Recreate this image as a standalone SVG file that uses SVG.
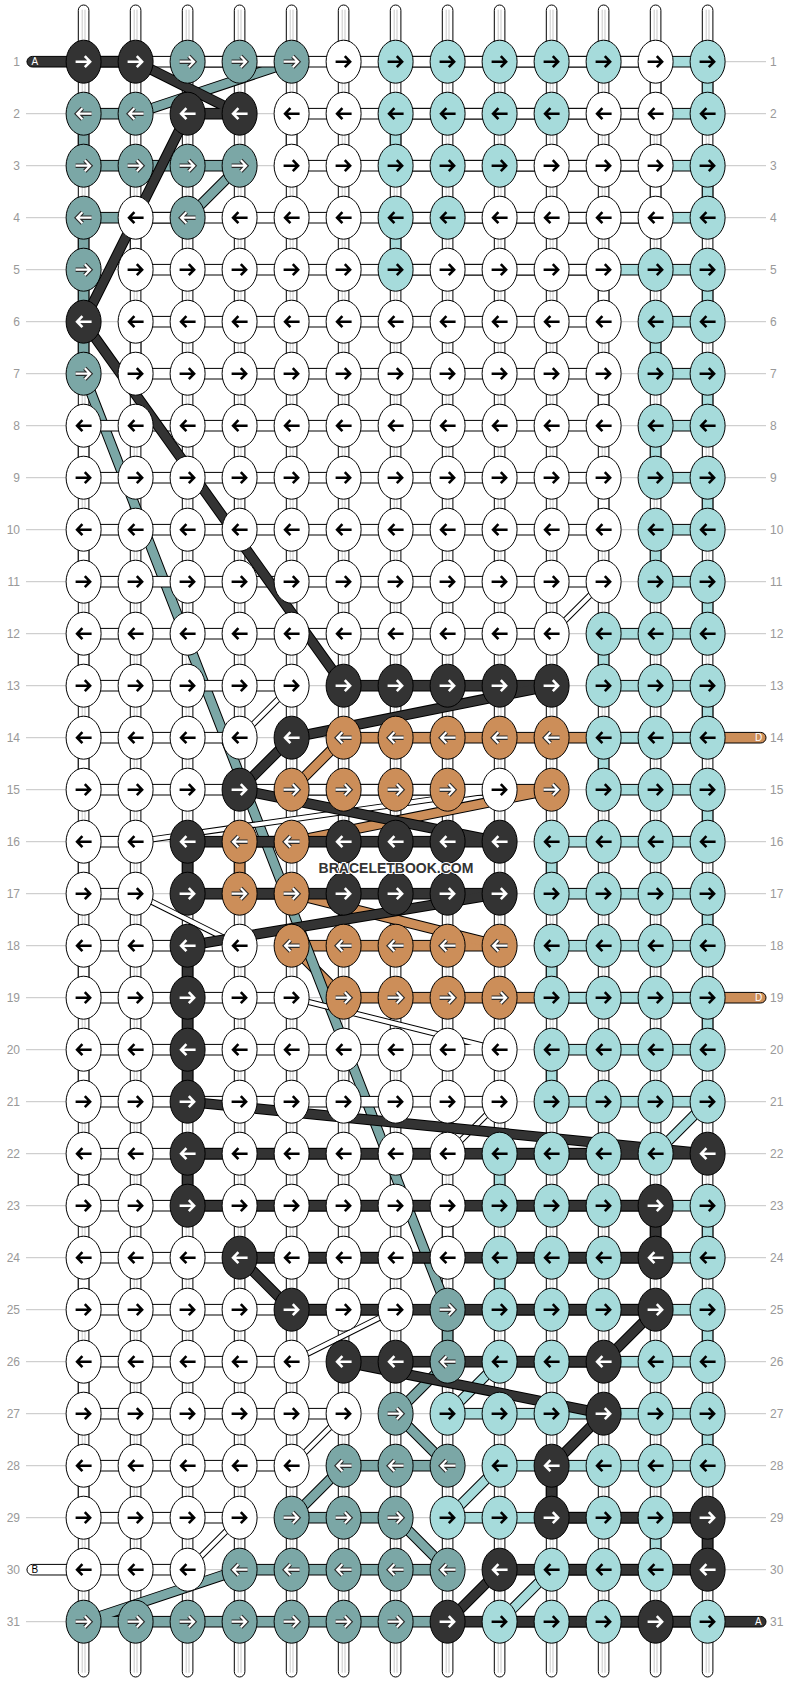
<svg xmlns="http://www.w3.org/2000/svg" xmlns:xlink="http://www.w3.org/1999/xlink" width="792" height="1684" viewBox="0 0 792 1684">
<defs>
<style>
.g{stroke:#c4c4c4;stroke-width:1}
.lb{font-family:"Liberation Sans",Arial,sans-serif;font-size:12px;fill:#999}
.pt{font-family:"Liberation Sans",Arial,sans-serif;font-size:10px}
.b{stroke:#000;stroke-width:1}
.k{stroke:#000;stroke-width:1}
.D{fill:#333}.T{fill:#7ba7a6}.L{fill:#a6dbdb}.O{fill:#cc8e59}.W{fill:#fff}
.dk{fill:none;stroke:#000;stroke-width:10.6}
.dkw{fill:none;stroke:#000;stroke-width:6.2}
.fD{fill:none;stroke:#333;stroke-width:8.6}
.fT{fill:none;stroke:#7ba7a6;stroke-width:8.6}
.fL{fill:none;stroke:#a6dbdb;stroke-width:8.6}
.fO{fill:none;stroke:#cc8e59;stroke-width:8.6}
.fW{fill:none;stroke:#fff;stroke-width:4.2}
.ab{stroke:#000;stroke-width:2.6}
.aw{stroke:#fff;stroke-width:2.6}
.ao{stroke:#2a2a2a;stroke-width:4.4}
.ai{stroke:#fff;stroke-width:2.2}
.wm{font-family:"Liberation Sans",Arial,sans-serif;font-weight:bold;font-size:14px;fill:#333;stroke:#fff;stroke-width:2;paint-order:stroke}
</style>
<path id="ar" d="M-8,0H5.5M1.2,-5.5L6.5,0L1.2,5.5" fill="none"/>
<path id="al" d="M8,0H-5.5M-1.2,-5.5L-6.5,0L-1.2,5.5" fill="none"/>
<g id="tube"><rect x="-5.3" y="-56.7" width="10.6" height="1672" rx="5.3" fill="#fff" stroke="#000"/><path d="M-1.4,-52V1611M1.4,-52V1611" stroke="#bbb" stroke-width="0.8"/></g>
<g id="WR"><ellipse class="k W" rx="17.5" ry="21.5"/><use href="#ar" class="ab"/></g>
<g id="WL"><ellipse class="k W" rx="17.5" ry="21.5"/><use href="#al" class="ab"/></g>
<g id="LR"><ellipse class="k L" rx="17.5" ry="21.5"/><use href="#ar" class="ab"/></g>
<g id="LL"><ellipse class="k L" rx="17.5" ry="21.5"/><use href="#al" class="ab"/></g>
<g id="DR"><ellipse class="k D" rx="17.5" ry="21.5"/><use href="#ar" class="aw"/></g>
<g id="DL"><ellipse class="k D" rx="17.5" ry="21.5"/><use href="#al" class="aw"/></g>
<g id="TR"><ellipse class="k T" rx="17.5" ry="21.5"/><use href="#ar" class="ao"/><use href="#ar" class="ai"/></g>
<g id="TL"><ellipse class="k T" rx="17.5" ry="21.5"/><use href="#al" class="ao"/><use href="#al" class="ai"/></g>
<g id="OR"><ellipse class="k O" rx="17.5" ry="21.5"/><use href="#ar" class="ao"/><use href="#ar" class="ai"/></g>
<g id="OL"><ellipse class="k O" rx="17.5" ry="21.5"/><use href="#al" class="ao"/><use href="#al" class="ai"/></g>
</defs>
<rect width="792" height="1684" fill="#fff"/>
<g transform="translate(83.6,61.7)">
<g id="guides" class="g">
<path d="M-57.6,0H682.4M-57.6,52H682.4M-57.6,104H682.4M-57.6,156H682.4M-57.6,208H682.4M-57.6,260H682.4M-57.6,312H682.4M-57.6,364H682.4M-57.6,416H682.4M-57.6,468H682.4M-57.6,520H682.4M-57.6,572H682.4M-57.6,624H682.4M-57.6,676H682.4M-57.6,728H682.4M-57.6,780H682.4M-57.6,832H682.4M-57.6,884H682.4M-57.6,936H682.4M-57.6,988H682.4M-57.6,1040H682.4M-57.6,1092H682.4M-57.6,1144H682.4M-57.6,1196H682.4M-57.6,1248H682.4M-57.6,1300H682.4M-57.6,1352H682.4M-57.6,1404H682.4M-57.6,1456H682.4M-57.6,1508H682.4M-57.6,1560H682.4"/>
</g>
<g id="warps">
<use href="#tube" x="0"/><use href="#tube" x="52"/><use href="#tube" x="104"/><use href="#tube" x="156"/><use href="#tube" x="208"/><use href="#tube" x="260"/><use href="#tube" x="312"/><use href="#tube" x="364"/><use href="#tube" x="416"/><use href="#tube" x="468"/><use href="#tube" x="520"/><use href="#tube" x="572"/><use href="#tube" x="624"/>
</g>
<g id="connectors">
<g id="thread-orange">
<path class="dk" d="M260,676L208,728M468,728L208,780M208,832L416,884M208,884L260,936"/>
<rect class="b O" x="260" y="670.7" width="422.4" height="10.6" rx="5.3"/>
<rect class="b O" x="208" y="722.7" width="260" height="10.6"/>
<rect class="b O" x="156" y="774.7" width="52" height="10.6"/>
<rect class="b O" x="150.7" y="780" width="10.6" height="52"/>
<rect class="b O" x="156" y="826.7" width="52" height="10.6"/>
<rect class="b O" x="208" y="878.7" width="208" height="10.6"/>
<rect class="b O" x="260" y="930.7" width="422.4" height="10.6" rx="5.3"/>
<path class="fO" d="M260,676L208,728M468,728L208,780M208,832L416,884M208,884L260,936"/>
</g>
<g id="thread-teal">
<path class="dk" d="M208,0L52,52M156,104L104,156M0,312L364,1248M364,1300L312,1352M312,1352L364,1404M260,1404L208,1456M312,1456L364,1508M156,1508L0,1560"/>
<rect class="b T" x="104" y="-5.3" width="104" height="10.6"/>
<rect class="b T" x="0" y="46.7" width="52" height="10.6"/>
<rect class="b T" x="-5.3" y="52" width="10.6" height="52"/>
<rect class="b T" x="0" y="98.7" width="156" height="10.6"/>
<rect class="b T" x="0" y="150.7" width="104" height="10.6"/>
<rect class="b T" x="-5.3" y="156" width="10.6" height="156"/>
<rect class="b T" x="358.7" y="1248" width="10.6" height="52"/>
<rect class="b T" x="260" y="1398.7" width="104" height="10.6"/>
<rect class="b T" x="208" y="1450.7" width="104" height="10.6"/>
<rect class="b T" x="156" y="1502.7" width="208" height="10.6"/>
<rect class="b T" x="0" y="1554.7" width="364" height="10.6"/>
<path class="fT" d="M208,0L52,52M156,104L104,156M0,312L364,1248M364,1300L312,1352M312,1352L364,1404M260,1404L208,1456M312,1456L364,1508M156,1508L0,1560"/>
</g>
<g id="thread-light">
<path class="dk" d="M624,1040L572,1092M416,1300L364,1352M416,1404L364,1456M468,1508L416,1560"/>
<rect class="b L" x="312" y="-5.3" width="312" height="10.6"/>
<rect class="b L" x="618.7" y="0" width="10.6" height="52"/>
<rect class="b L" x="312" y="46.7" width="312" height="10.6"/>
<rect class="b L" x="306.7" y="52" width="10.6" height="52"/>
<rect class="b L" x="312" y="98.7" width="312" height="10.6"/>
<rect class="b L" x="618.7" y="104" width="10.6" height="52"/>
<rect class="b L" x="312" y="150.7" width="312" height="10.6"/>
<rect class="b L" x="306.7" y="156" width="10.6" height="52"/>
<rect class="b L" x="312" y="202.7" width="312" height="10.6"/>
<rect class="b L" x="618.7" y="208" width="10.6" height="52"/>
<rect class="b L" x="572" y="254.7" width="52" height="10.6"/>
<rect class="b L" x="566.7" y="260" width="10.6" height="52"/>
<rect class="b L" x="572" y="306.7" width="52" height="10.6"/>
<rect class="b L" x="618.7" y="312" width="10.6" height="52"/>
<rect class="b L" x="572" y="358.7" width="52" height="10.6"/>
<rect class="b L" x="566.7" y="364" width="10.6" height="52"/>
<rect class="b L" x="572" y="410.7" width="52" height="10.6"/>
<rect class="b L" x="618.7" y="416" width="10.6" height="52"/>
<rect class="b L" x="572" y="462.7" width="52" height="10.6"/>
<rect class="b L" x="566.7" y="468" width="10.6" height="52"/>
<rect class="b L" x="572" y="514.7" width="52" height="10.6"/>
<rect class="b L" x="618.7" y="520" width="10.6" height="52"/>
<rect class="b L" x="520" y="566.7" width="104" height="10.6"/>
<rect class="b L" x="514.7" y="572" width="10.6" height="52"/>
<rect class="b L" x="520" y="618.7" width="104" height="10.6"/>
<rect class="b L" x="618.7" y="624" width="10.6" height="52"/>
<rect class="b L" x="520" y="670.7" width="104" height="10.6"/>
<rect class="b L" x="514.7" y="676" width="10.6" height="52"/>
<rect class="b L" x="520" y="722.7" width="104" height="10.6"/>
<rect class="b L" x="618.7" y="728" width="10.6" height="52"/>
<rect class="b L" x="468" y="774.7" width="156" height="10.6"/>
<rect class="b L" x="462.7" y="780" width="10.6" height="52"/>
<rect class="b L" x="468" y="826.7" width="156" height="10.6"/>
<rect class="b L" x="618.7" y="832" width="10.6" height="52"/>
<rect class="b L" x="468" y="878.7" width="156" height="10.6"/>
<rect class="b L" x="462.7" y="884" width="10.6" height="52"/>
<rect class="b L" x="468" y="930.7" width="156" height="10.6"/>
<rect class="b L" x="618.7" y="936" width="10.6" height="52"/>
<rect class="b L" x="468" y="982.7" width="156" height="10.6"/>
<rect class="b L" x="462.7" y="988" width="10.6" height="52"/>
<rect class="b L" x="468" y="1034.7" width="156" height="10.6"/>
<rect class="b L" x="416" y="1086.7" width="156" height="10.6"/>
<rect class="b L" x="410.7" y="1092" width="10.6" height="52"/>
<rect class="b L" x="416" y="1138.7" width="208" height="10.6"/>
<rect class="b L" x="618.7" y="1144" width="10.6" height="52"/>
<rect class="b L" x="416" y="1190.7" width="208" height="10.6"/>
<rect class="b L" x="410.7" y="1196" width="10.6" height="52"/>
<rect class="b L" x="416" y="1242.7" width="208" height="10.6"/>
<rect class="b L" x="618.7" y="1248" width="10.6" height="52"/>
<rect class="b L" x="416" y="1294.7" width="208" height="10.6"/>
<rect class="b L" x="364" y="1346.7" width="260" height="10.6"/>
<rect class="b L" x="618.7" y="1352" width="10.6" height="52"/>
<rect class="b L" x="416" y="1398.7" width="208" height="10.6"/>
<rect class="b L" x="364" y="1450.7" width="208" height="10.6"/>
<rect class="b L" x="566.7" y="1456" width="10.6" height="52"/>
<rect class="b L" x="468" y="1502.7" width="104" height="10.6"/>
<rect class="b L" x="416" y="1554.7" width="208" height="10.6"/>
<path class="fL" d="M624,1040L572,1092M416,1300L364,1352M416,1404L364,1456M468,1508L416,1560"/>
</g>
<g id="thread-white">
<path class="dkw" d="M520,520L468,572M208,624L156,676M416,728L52,780M52,832L156,884M208,936L416,988M416,1040L364,1092M312,1248L208,1300M260,1352L208,1404M156,1456L104,1508"/>
<rect class="b W" x="0" y="-5.3" width="572" height="10.6"/>
<rect class="b W" x="566.7" y="0" width="10.6" height="52"/>
<rect class="b W" x="208" y="46.7" width="364" height="10.6"/>
<rect class="b W" x="202.7" y="52" width="10.6" height="52"/>
<rect class="b W" x="208" y="98.7" width="364" height="10.6"/>
<rect class="b W" x="566.7" y="104" width="10.6" height="52"/>
<rect class="b W" x="52" y="150.7" width="520" height="10.6"/>
<rect class="b W" x="46.7" y="156" width="10.6" height="52"/>
<rect class="b W" x="52" y="202.7" width="468" height="10.6"/>
<rect class="b W" x="514.7" y="208" width="10.6" height="52"/>
<rect class="b W" x="52" y="254.7" width="468" height="10.6"/>
<rect class="b W" x="46.7" y="260" width="10.6" height="52"/>
<rect class="b W" x="52" y="306.7" width="468" height="10.6"/>
<rect class="b W" x="514.7" y="312" width="10.6" height="52"/>
<rect class="b W" x="0" y="358.7" width="520" height="10.6"/>
<rect class="b W" x="-5.3" y="364" width="10.6" height="52"/>
<rect class="b W" x="0" y="410.7" width="520" height="10.6"/>
<rect class="b W" x="514.7" y="416" width="10.6" height="52"/>
<rect class="b W" x="0" y="462.7" width="520" height="10.6"/>
<rect class="b W" x="-5.3" y="468" width="10.6" height="52"/>
<rect class="b W" x="0" y="514.7" width="520" height="10.6"/>
<rect class="b W" x="0" y="566.7" width="468" height="10.6"/>
<rect class="b W" x="-5.3" y="572" width="10.6" height="52"/>
<rect class="b W" x="0" y="618.7" width="208" height="10.6"/>
<rect class="b W" x="0" y="670.7" width="156" height="10.6"/>
<rect class="b W" x="-5.3" y="676" width="10.6" height="52"/>
<rect class="b W" x="0" y="722.7" width="416" height="10.6"/>
<rect class="b W" x="0" y="774.7" width="52" height="10.6"/>
<rect class="b W" x="-5.3" y="780" width="10.6" height="52"/>
<rect class="b W" x="0" y="826.7" width="52" height="10.6"/>
<rect class="b W" x="0" y="878.7" width="156" height="10.6"/>
<rect class="b W" x="-5.3" y="884" width="10.6" height="52"/>
<rect class="b W" x="0" y="930.7" width="208" height="10.6"/>
<rect class="b W" x="0" y="982.7" width="416" height="10.6"/>
<rect class="b W" x="-5.3" y="988" width="10.6" height="52"/>
<rect class="b W" x="0" y="1034.7" width="416" height="10.6"/>
<rect class="b W" x="0" y="1086.7" width="364" height="10.6"/>
<rect class="b W" x="-5.3" y="1092" width="10.6" height="52"/>
<rect class="b W" x="0" y="1138.7" width="364" height="10.6"/>
<rect class="b W" x="358.7" y="1144" width="10.6" height="52"/>
<rect class="b W" x="0" y="1190.7" width="364" height="10.6"/>
<rect class="b W" x="-5.3" y="1196" width="10.6" height="52"/>
<rect class="b W" x="0" y="1242.7" width="312" height="10.6"/>
<rect class="b W" x="0" y="1294.7" width="208" height="10.6"/>
<rect class="b W" x="-5.3" y="1300" width="10.6" height="52"/>
<rect class="b W" x="0" y="1346.7" width="260" height="10.6"/>
<rect class="b W" x="0" y="1398.7" width="208" height="10.6"/>
<rect class="b W" x="-5.3" y="1404" width="10.6" height="52"/>
<rect class="b W" x="0" y="1450.7" width="156" height="10.6"/>
<rect class="b W" x="-56.6" y="1502.7" width="160.6" height="10.6" rx="5.3"/>
<path class="fW" d="M520,520L468,572M208,624L156,676M416,728L52,780M52,832L156,884M208,936L416,988M416,1040L364,1092M312,1248L208,1300M260,1352L208,1404M156,1456L104,1508"/>
</g>
<g id="thread-dark">
<path class="dk" d="M52,0L156,52M104,52L0,260M0,260L260,624M468,624L208,676M208,676L156,728M156,728L416,780M416,832L104,884M104,1040L624,1092M156,1196L208,1248M572,1248L520,1300M260,1300L520,1352M520,1352L468,1404M416,1508L364,1560"/>
<rect class="b D" x="-56.6" y="-5.3" width="108.6" height="10.6" rx="5.3"/>
<rect class="b D" x="104" y="46.7" width="52" height="10.6"/>
<rect class="b D" x="260" y="618.7" width="208" height="10.6"/>
<rect class="b D" x="104" y="774.7" width="312" height="10.6"/>
<rect class="b D" x="98.7" y="780" width="10.6" height="52"/>
<rect class="b D" x="104" y="826.7" width="312" height="10.6"/>
<rect class="b D" x="98.7" y="884" width="10.6" height="156"/>
<rect class="b D" x="104" y="1086.7" width="520" height="10.6"/>
<rect class="b D" x="98.7" y="1092" width="10.6" height="52"/>
<rect class="b D" x="104" y="1138.7" width="468" height="10.6"/>
<rect class="b D" x="566.7" y="1144" width="10.6" height="52"/>
<rect class="b D" x="156" y="1190.7" width="416" height="10.6"/>
<rect class="b D" x="208" y="1242.7" width="364" height="10.6"/>
<rect class="b D" x="260" y="1294.7" width="260" height="10.6"/>
<rect class="b D" x="462.7" y="1404" width="10.6" height="52"/>
<rect class="b D" x="468" y="1450.7" width="156" height="10.6"/>
<rect class="b D" x="618.7" y="1456" width="10.6" height="52"/>
<rect class="b D" x="416" y="1502.7" width="208" height="10.6"/>
<rect class="b D" x="364" y="1554.7" width="318.4" height="10.6" rx="5.3"/>
<path class="fD" d="M52,0L156,52M104,52L0,260M0,260L260,624M468,624L208,676M208,676L156,728M156,728L416,780M416,832L104,884M104,1040L624,1092M156,1196L208,1248M572,1248L520,1300M260,1300L520,1352M520,1352L468,1404M416,1508L364,1560"/>
</g>
</g>
<g id="pill-labels" class="pt">
<text x="-52.1" y="3.5" fill="#fff">A</text>
<text x="-52.1" y="1511.5" fill="#000">B</text>
<text x="671.4" y="679.5" fill="#fff">D</text>
<text x="671.4" y="939.5" fill="#fff">D</text>
<text x="671.4" y="1563.5" fill="#fff">A</text>
</g>
<g id="knots">
<g id="row1"><use id="k1_1" href="#DR" x="0"/><use id="k1_2" href="#DR" x="52"/><use id="k1_3" href="#TR" x="104"/><use id="k1_4" href="#TR" x="156"/><use id="k1_5" href="#TR" x="208"/><use id="k1_6" href="#WR" x="260"/><use id="k1_7" href="#LR" x="312"/><use id="k1_8" href="#LR" x="364"/><use id="k1_9" href="#LR" x="416"/><use id="k1_10" href="#LR" x="468"/><use id="k1_11" href="#LR" x="520"/><use id="k1_12" href="#WR" x="572"/><use id="k1_13" href="#LR" x="624"/></g>
<g id="row2" transform="translate(0,52)"><use id="k2_1" href="#TL" x="0"/><use id="k2_2" href="#TL" x="52"/><use id="k2_3" href="#DL" x="104"/><use id="k2_4" href="#DL" x="156"/><use id="k2_5" href="#WL" x="208"/><use id="k2_6" href="#WL" x="260"/><use id="k2_7" href="#LL" x="312"/><use id="k2_8" href="#LL" x="364"/><use id="k2_9" href="#LL" x="416"/><use id="k2_10" href="#LL" x="468"/><use id="k2_11" href="#WL" x="520"/><use id="k2_12" href="#WL" x="572"/><use id="k2_13" href="#LL" x="624"/></g>
<g id="row3" transform="translate(0,104)"><use id="k3_1" href="#TR" x="0"/><use id="k3_2" href="#TR" x="52"/><use id="k3_3" href="#TR" x="104"/><use id="k3_4" href="#TR" x="156"/><use id="k3_5" href="#WR" x="208"/><use id="k3_6" href="#WR" x="260"/><use id="k3_7" href="#LR" x="312"/><use id="k3_8" href="#LR" x="364"/><use id="k3_9" href="#LR" x="416"/><use id="k3_10" href="#WR" x="468"/><use id="k3_11" href="#WR" x="520"/><use id="k3_12" href="#WR" x="572"/><use id="k3_13" href="#LR" x="624"/></g>
<g id="row4" transform="translate(0,156)"><use id="k4_1" href="#TL" x="0"/><use id="k4_2" href="#WL" x="52"/><use id="k4_3" href="#TL" x="104"/><use id="k4_4" href="#WL" x="156"/><use id="k4_5" href="#WL" x="208"/><use id="k4_6" href="#WL" x="260"/><use id="k4_7" href="#LL" x="312"/><use id="k4_8" href="#LL" x="364"/><use id="k4_9" href="#WL" x="416"/><use id="k4_10" href="#WL" x="468"/><use id="k4_11" href="#WL" x="520"/><use id="k4_12" href="#WL" x="572"/><use id="k4_13" href="#LL" x="624"/></g>
<g id="row5" transform="translate(0,208)"><use id="k5_1" href="#TR" x="0"/><use id="k5_2" href="#WR" x="52"/><use id="k5_3" href="#WR" x="104"/><use id="k5_4" href="#WR" x="156"/><use id="k5_5" href="#WR" x="208"/><use id="k5_6" href="#WR" x="260"/><use id="k5_7" href="#LR" x="312"/><use id="k5_8" href="#WR" x="364"/><use id="k5_9" href="#WR" x="416"/><use id="k5_10" href="#WR" x="468"/><use id="k5_11" href="#WR" x="520"/><use id="k5_12" href="#LR" x="572"/><use id="k5_13" href="#LR" x="624"/></g>
<g id="row6" transform="translate(0,260)"><use id="k6_1" href="#DL" x="0"/><use id="k6_2" href="#WL" x="52"/><use id="k6_3" href="#WL" x="104"/><use id="k6_4" href="#WL" x="156"/><use id="k6_5" href="#WL" x="208"/><use id="k6_6" href="#WL" x="260"/><use id="k6_7" href="#WL" x="312"/><use id="k6_8" href="#WL" x="364"/><use id="k6_9" href="#WL" x="416"/><use id="k6_10" href="#WL" x="468"/><use id="k6_11" href="#WL" x="520"/><use id="k6_12" href="#LL" x="572"/><use id="k6_13" href="#LL" x="624"/></g>
<g id="row7" transform="translate(0,312)"><use id="k7_1" href="#TR" x="0"/><use id="k7_2" href="#WR" x="52"/><use id="k7_3" href="#WR" x="104"/><use id="k7_4" href="#WR" x="156"/><use id="k7_5" href="#WR" x="208"/><use id="k7_6" href="#WR" x="260"/><use id="k7_7" href="#WR" x="312"/><use id="k7_8" href="#WR" x="364"/><use id="k7_9" href="#WR" x="416"/><use id="k7_10" href="#WR" x="468"/><use id="k7_11" href="#WR" x="520"/><use id="k7_12" href="#LR" x="572"/><use id="k7_13" href="#LR" x="624"/></g>
<g id="row8" transform="translate(0,364)"><use id="k8_1" href="#WL" x="0"/><use id="k8_2" href="#WL" x="52"/><use id="k8_3" href="#WL" x="104"/><use id="k8_4" href="#WL" x="156"/><use id="k8_5" href="#WL" x="208"/><use id="k8_6" href="#WL" x="260"/><use id="k8_7" href="#WL" x="312"/><use id="k8_8" href="#WL" x="364"/><use id="k8_9" href="#WL" x="416"/><use id="k8_10" href="#WL" x="468"/><use id="k8_11" href="#WL" x="520"/><use id="k8_12" href="#LL" x="572"/><use id="k8_13" href="#LL" x="624"/></g>
<g id="row9" transform="translate(0,416)"><use id="k9_1" href="#WR" x="0"/><use id="k9_2" href="#WR" x="52"/><use id="k9_3" href="#WR" x="104"/><use id="k9_4" href="#WR" x="156"/><use id="k9_5" href="#WR" x="208"/><use id="k9_6" href="#WR" x="260"/><use id="k9_7" href="#WR" x="312"/><use id="k9_8" href="#WR" x="364"/><use id="k9_9" href="#WR" x="416"/><use id="k9_10" href="#WR" x="468"/><use id="k9_11" href="#WR" x="520"/><use id="k9_12" href="#LR" x="572"/><use id="k9_13" href="#LR" x="624"/></g>
<g id="row10" transform="translate(0,468)"><use id="k10_1" href="#WL" x="0"/><use id="k10_2" href="#WL" x="52"/><use id="k10_3" href="#WL" x="104"/><use id="k10_4" href="#WL" x="156"/><use id="k10_5" href="#WL" x="208"/><use id="k10_6" href="#WL" x="260"/><use id="k10_7" href="#WL" x="312"/><use id="k10_8" href="#WL" x="364"/><use id="k10_9" href="#WL" x="416"/><use id="k10_10" href="#WL" x="468"/><use id="k10_11" href="#WL" x="520"/><use id="k10_12" href="#LL" x="572"/><use id="k10_13" href="#LL" x="624"/></g>
<g id="row11" transform="translate(0,520)"><use id="k11_1" href="#WR" x="0"/><use id="k11_2" href="#WR" x="52"/><use id="k11_3" href="#WR" x="104"/><use id="k11_4" href="#WR" x="156"/><use id="k11_5" href="#WR" x="208"/><use id="k11_6" href="#WR" x="260"/><use id="k11_7" href="#WR" x="312"/><use id="k11_8" href="#WR" x="364"/><use id="k11_9" href="#WR" x="416"/><use id="k11_10" href="#WR" x="468"/><use id="k11_11" href="#WR" x="520"/><use id="k11_12" href="#LR" x="572"/><use id="k11_13" href="#LR" x="624"/></g>
<g id="row12" transform="translate(0,572)"><use id="k12_1" href="#WL" x="0"/><use id="k12_2" href="#WL" x="52"/><use id="k12_3" href="#WL" x="104"/><use id="k12_4" href="#WL" x="156"/><use id="k12_5" href="#WL" x="208"/><use id="k12_6" href="#WL" x="260"/><use id="k12_7" href="#WL" x="312"/><use id="k12_8" href="#WL" x="364"/><use id="k12_9" href="#WL" x="416"/><use id="k12_10" href="#WL" x="468"/><use id="k12_11" href="#LL" x="520"/><use id="k12_12" href="#LL" x="572"/><use id="k12_13" href="#LL" x="624"/></g>
<g id="row13" transform="translate(0,624)"><use id="k13_1" href="#WR" x="0"/><use id="k13_2" href="#WR" x="52"/><use id="k13_3" href="#WR" x="104"/><use id="k13_4" href="#WR" x="156"/><use id="k13_5" href="#WR" x="208"/><use id="k13_6" href="#DR" x="260"/><use id="k13_7" href="#DR" x="312"/><use id="k13_8" href="#DR" x="364"/><use id="k13_9" href="#DR" x="416"/><use id="k13_10" href="#DR" x="468"/><use id="k13_11" href="#LR" x="520"/><use id="k13_12" href="#LR" x="572"/><use id="k13_13" href="#LR" x="624"/></g>
<g id="row14" transform="translate(0,676)"><use id="k14_1" href="#WL" x="0"/><use id="k14_2" href="#WL" x="52"/><use id="k14_3" href="#WL" x="104"/><use id="k14_4" href="#WL" x="156"/><use id="k14_5" href="#DL" x="208"/><use id="k14_6" href="#OL" x="260"/><use id="k14_7" href="#OL" x="312"/><use id="k14_8" href="#OL" x="364"/><use id="k14_9" href="#OL" x="416"/><use id="k14_10" href="#OL" x="468"/><use id="k14_11" href="#LL" x="520"/><use id="k14_12" href="#LL" x="572"/><use id="k14_13" href="#LL" x="624"/></g>
<g id="row15" transform="translate(0,728)"><use id="k15_1" href="#WR" x="0"/><use id="k15_2" href="#WR" x="52"/><use id="k15_3" href="#WR" x="104"/><use id="k15_4" href="#DR" x="156"/><use id="k15_5" href="#OR" x="208"/><use id="k15_6" href="#OR" x="260"/><use id="k15_7" href="#OR" x="312"/><use id="k15_8" href="#OR" x="364"/><use id="k15_9" href="#WR" x="416"/><use id="k15_10" href="#OR" x="468"/><use id="k15_11" href="#LR" x="520"/><use id="k15_12" href="#LR" x="572"/><use id="k15_13" href="#LR" x="624"/></g>
<g id="row16" transform="translate(0,780)"><use id="k16_1" href="#WL" x="0"/><use id="k16_2" href="#WL" x="52"/><use id="k16_3" href="#DL" x="104"/><use id="k16_4" href="#OL" x="156"/><use id="k16_5" href="#OL" x="208"/><use id="k16_6" href="#DL" x="260"/><use id="k16_7" href="#DL" x="312"/><use id="k16_8" href="#DL" x="364"/><use id="k16_9" href="#DL" x="416"/><use id="k16_10" href="#LL" x="468"/><use id="k16_11" href="#LL" x="520"/><use id="k16_12" href="#LL" x="572"/><use id="k16_13" href="#LL" x="624"/></g>
<g id="row17" transform="translate(0,832)"><use id="k17_1" href="#WR" x="0"/><use id="k17_2" href="#WR" x="52"/><use id="k17_3" href="#DR" x="104"/><use id="k17_4" href="#OR" x="156"/><use id="k17_5" href="#OR" x="208"/><use id="k17_6" href="#DR" x="260"/><use id="k17_7" href="#DR" x="312"/><use id="k17_8" href="#DR" x="364"/><use id="k17_9" href="#DR" x="416"/><use id="k17_10" href="#LR" x="468"/><use id="k17_11" href="#LR" x="520"/><use id="k17_12" href="#LR" x="572"/><use id="k17_13" href="#LR" x="624"/></g>
<g id="row18" transform="translate(0,884)"><use id="k18_1" href="#WL" x="0"/><use id="k18_2" href="#WL" x="52"/><use id="k18_3" href="#DL" x="104"/><use id="k18_4" href="#WL" x="156"/><use id="k18_5" href="#OL" x="208"/><use id="k18_6" href="#OL" x="260"/><use id="k18_7" href="#OL" x="312"/><use id="k18_8" href="#OL" x="364"/><use id="k18_9" href="#OL" x="416"/><use id="k18_10" href="#LL" x="468"/><use id="k18_11" href="#LL" x="520"/><use id="k18_12" href="#LL" x="572"/><use id="k18_13" href="#LL" x="624"/></g>
<g id="row19" transform="translate(0,936)"><use id="k19_1" href="#WR" x="0"/><use id="k19_2" href="#WR" x="52"/><use id="k19_3" href="#DR" x="104"/><use id="k19_4" href="#WR" x="156"/><use id="k19_5" href="#WR" x="208"/><use id="k19_6" href="#OR" x="260"/><use id="k19_7" href="#OR" x="312"/><use id="k19_8" href="#OR" x="364"/><use id="k19_9" href="#OR" x="416"/><use id="k19_10" href="#LR" x="468"/><use id="k19_11" href="#LR" x="520"/><use id="k19_12" href="#LR" x="572"/><use id="k19_13" href="#LR" x="624"/></g>
<g id="row20" transform="translate(0,988)"><use id="k20_1" href="#WL" x="0"/><use id="k20_2" href="#WL" x="52"/><use id="k20_3" href="#DL" x="104"/><use id="k20_4" href="#WL" x="156"/><use id="k20_5" href="#WL" x="208"/><use id="k20_6" href="#WL" x="260"/><use id="k20_7" href="#WL" x="312"/><use id="k20_8" href="#WL" x="364"/><use id="k20_9" href="#WL" x="416"/><use id="k20_10" href="#LL" x="468"/><use id="k20_11" href="#LL" x="520"/><use id="k20_12" href="#LL" x="572"/><use id="k20_13" href="#LL" x="624"/></g>
<g id="row21" transform="translate(0,1040)"><use id="k21_1" href="#WR" x="0"/><use id="k21_2" href="#WR" x="52"/><use id="k21_3" href="#DR" x="104"/><use id="k21_4" href="#WR" x="156"/><use id="k21_5" href="#WR" x="208"/><use id="k21_6" href="#WR" x="260"/><use id="k21_7" href="#WR" x="312"/><use id="k21_8" href="#WR" x="364"/><use id="k21_9" href="#WR" x="416"/><use id="k21_10" href="#LR" x="468"/><use id="k21_11" href="#LR" x="520"/><use id="k21_12" href="#LR" x="572"/><use id="k21_13" href="#LR" x="624"/></g>
<g id="row22" transform="translate(0,1092)"><use id="k22_1" href="#WL" x="0"/><use id="k22_2" href="#WL" x="52"/><use id="k22_3" href="#DL" x="104"/><use id="k22_4" href="#WL" x="156"/><use id="k22_5" href="#WL" x="208"/><use id="k22_6" href="#WL" x="260"/><use id="k22_7" href="#WL" x="312"/><use id="k22_8" href="#WL" x="364"/><use id="k22_9" href="#LL" x="416"/><use id="k22_10" href="#LL" x="468"/><use id="k22_11" href="#LL" x="520"/><use id="k22_12" href="#LL" x="572"/><use id="k22_13" href="#DL" x="624"/></g>
<g id="row23" transform="translate(0,1144)"><use id="k23_1" href="#WR" x="0"/><use id="k23_2" href="#WR" x="52"/><use id="k23_3" href="#DR" x="104"/><use id="k23_4" href="#WR" x="156"/><use id="k23_5" href="#WR" x="208"/><use id="k23_6" href="#WR" x="260"/><use id="k23_7" href="#WR" x="312"/><use id="k23_8" href="#WR" x="364"/><use id="k23_9" href="#LR" x="416"/><use id="k23_10" href="#LR" x="468"/><use id="k23_11" href="#LR" x="520"/><use id="k23_12" href="#DR" x="572"/><use id="k23_13" href="#LR" x="624"/></g>
<g id="row24" transform="translate(0,1196)"><use id="k24_1" href="#WL" x="0"/><use id="k24_2" href="#WL" x="52"/><use id="k24_3" href="#WL" x="104"/><use id="k24_4" href="#DL" x="156"/><use id="k24_5" href="#WL" x="208"/><use id="k24_6" href="#WL" x="260"/><use id="k24_7" href="#WL" x="312"/><use id="k24_8" href="#WL" x="364"/><use id="k24_9" href="#LL" x="416"/><use id="k24_10" href="#LL" x="468"/><use id="k24_11" href="#LL" x="520"/><use id="k24_12" href="#DL" x="572"/><use id="k24_13" href="#LL" x="624"/></g>
<g id="row25" transform="translate(0,1248)"><use id="k25_1" href="#WR" x="0"/><use id="k25_2" href="#WR" x="52"/><use id="k25_3" href="#WR" x="104"/><use id="k25_4" href="#WR" x="156"/><use id="k25_5" href="#DR" x="208"/><use id="k25_6" href="#WR" x="260"/><use id="k25_7" href="#WR" x="312"/><use id="k25_8" href="#TR" x="364"/><use id="k25_9" href="#LR" x="416"/><use id="k25_10" href="#LR" x="468"/><use id="k25_11" href="#LR" x="520"/><use id="k25_12" href="#DR" x="572"/><use id="k25_13" href="#LR" x="624"/></g>
<g id="row26" transform="translate(0,1300)"><use id="k26_1" href="#WL" x="0"/><use id="k26_2" href="#WL" x="52"/><use id="k26_3" href="#WL" x="104"/><use id="k26_4" href="#WL" x="156"/><use id="k26_5" href="#WL" x="208"/><use id="k26_6" href="#DL" x="260"/><use id="k26_7" href="#DL" x="312"/><use id="k26_8" href="#TL" x="364"/><use id="k26_9" href="#LL" x="416"/><use id="k26_10" href="#LL" x="468"/><use id="k26_11" href="#DL" x="520"/><use id="k26_12" href="#LL" x="572"/><use id="k26_13" href="#LL" x="624"/></g>
<g id="row27" transform="translate(0,1352)"><use id="k27_1" href="#WR" x="0"/><use id="k27_2" href="#WR" x="52"/><use id="k27_3" href="#WR" x="104"/><use id="k27_4" href="#WR" x="156"/><use id="k27_5" href="#WR" x="208"/><use id="k27_6" href="#WR" x="260"/><use id="k27_7" href="#TR" x="312"/><use id="k27_8" href="#LR" x="364"/><use id="k27_9" href="#LR" x="416"/><use id="k27_10" href="#LR" x="468"/><use id="k27_11" href="#DR" x="520"/><use id="k27_12" href="#LR" x="572"/><use id="k27_13" href="#LR" x="624"/></g>
<g id="row28" transform="translate(0,1404)"><use id="k28_1" href="#WL" x="0"/><use id="k28_2" href="#WL" x="52"/><use id="k28_3" href="#WL" x="104"/><use id="k28_4" href="#WL" x="156"/><use id="k28_5" href="#WL" x="208"/><use id="k28_6" href="#TL" x="260"/><use id="k28_7" href="#TL" x="312"/><use id="k28_8" href="#TL" x="364"/><use id="k28_9" href="#LL" x="416"/><use id="k28_10" href="#DL" x="468"/><use id="k28_11" href="#LL" x="520"/><use id="k28_12" href="#LL" x="572"/><use id="k28_13" href="#LL" x="624"/></g>
<g id="row29" transform="translate(0,1456)"><use id="k29_1" href="#WR" x="0"/><use id="k29_2" href="#WR" x="52"/><use id="k29_3" href="#WR" x="104"/><use id="k29_4" href="#WR" x="156"/><use id="k29_5" href="#TR" x="208"/><use id="k29_6" href="#TR" x="260"/><use id="k29_7" href="#TR" x="312"/><use id="k29_8" href="#LR" x="364"/><use id="k29_9" href="#LR" x="416"/><use id="k29_10" href="#DR" x="468"/><use id="k29_11" href="#LR" x="520"/><use id="k29_12" href="#LR" x="572"/><use id="k29_13" href="#DR" x="624"/></g>
<g id="row30" transform="translate(0,1508)"><use id="k30_1" href="#WL" x="0"/><use id="k30_2" href="#WL" x="52"/><use id="k30_3" href="#WL" x="104"/><use id="k30_4" href="#TL" x="156"/><use id="k30_5" href="#TL" x="208"/><use id="k30_6" href="#TL" x="260"/><use id="k30_7" href="#TL" x="312"/><use id="k30_8" href="#TL" x="364"/><use id="k30_9" href="#DL" x="416"/><use id="k30_10" href="#LL" x="468"/><use id="k30_11" href="#LL" x="520"/><use id="k30_12" href="#LL" x="572"/><use id="k30_13" href="#DL" x="624"/></g>
<g id="row31" transform="translate(0,1560)"><use id="k31_1" href="#TR" x="0"/><use id="k31_2" href="#TR" x="52"/><use id="k31_3" href="#TR" x="104"/><use id="k31_4" href="#TR" x="156"/><use id="k31_5" href="#TR" x="208"/><use id="k31_6" href="#TR" x="260"/><use id="k31_7" href="#TR" x="312"/><use id="k31_8" href="#DR" x="364"/><use id="k31_9" href="#LR" x="416"/><use id="k31_10" href="#LR" x="468"/><use id="k31_11" href="#LR" x="520"/><use id="k31_12" href="#DR" x="572"/><use id="k31_13" href="#LR" x="624"/></g>
</g>
<text id="watermark" class="wm" x="312.4" y="811.3" text-anchor="middle">BRACELETBOOK.COM</text>
<g id="labels-left" class="lb" text-anchor="end">
<text x="-63.6" y="4.2">1</text><text x="-63.6" y="56.2">2</text><text x="-63.6" y="108.2">3</text><text x="-63.6" y="160.2">4</text><text x="-63.6" y="212.2">5</text><text x="-63.6" y="264.2">6</text><text x="-63.6" y="316.2">7</text><text x="-63.6" y="368.2">8</text><text x="-63.6" y="420.2">9</text><text x="-63.6" y="472.2">10</text><text x="-63.6" y="524.2">11</text><text x="-63.6" y="576.2">12</text><text x="-63.6" y="628.2">13</text><text x="-63.6" y="680.2">14</text><text x="-63.6" y="732.2">15</text><text x="-63.6" y="784.2">16</text><text x="-63.6" y="836.2">17</text><text x="-63.6" y="888.2">18</text><text x="-63.6" y="940.2">19</text><text x="-63.6" y="992.2">20</text><text x="-63.6" y="1044.2">21</text><text x="-63.6" y="1096.2">22</text><text x="-63.6" y="1148.2">23</text><text x="-63.6" y="1200.2">24</text><text x="-63.6" y="1252.2">25</text><text x="-63.6" y="1304.2">26</text><text x="-63.6" y="1356.2">27</text><text x="-63.6" y="1408.2">28</text><text x="-63.6" y="1460.2">29</text><text x="-63.6" y="1512.2">30</text><text x="-63.6" y="1564.2">31</text>
</g>
<g id="labels-right" class="lb">
<text x="686.4" y="4.2">1</text><text x="686.4" y="56.2">2</text><text x="686.4" y="108.2">3</text><text x="686.4" y="160.2">4</text><text x="686.4" y="212.2">5</text><text x="686.4" y="264.2">6</text><text x="686.4" y="316.2">7</text><text x="686.4" y="368.2">8</text><text x="686.4" y="420.2">9</text><text x="686.4" y="472.2">10</text><text x="686.4" y="524.2">11</text><text x="686.4" y="576.2">12</text><text x="686.4" y="628.2">13</text><text x="686.4" y="680.2">14</text><text x="686.4" y="732.2">15</text><text x="686.4" y="784.2">16</text><text x="686.4" y="836.2">17</text><text x="686.4" y="888.2">18</text><text x="686.4" y="940.2">19</text><text x="686.4" y="992.2">20</text><text x="686.4" y="1044.2">21</text><text x="686.4" y="1096.2">22</text><text x="686.4" y="1148.2">23</text><text x="686.4" y="1200.2">24</text><text x="686.4" y="1252.2">25</text><text x="686.4" y="1304.2">26</text><text x="686.4" y="1356.2">27</text><text x="686.4" y="1408.2">28</text><text x="686.4" y="1460.2">29</text><text x="686.4" y="1512.2">30</text><text x="686.4" y="1564.2">31</text>
</g>
</g>
</svg>
